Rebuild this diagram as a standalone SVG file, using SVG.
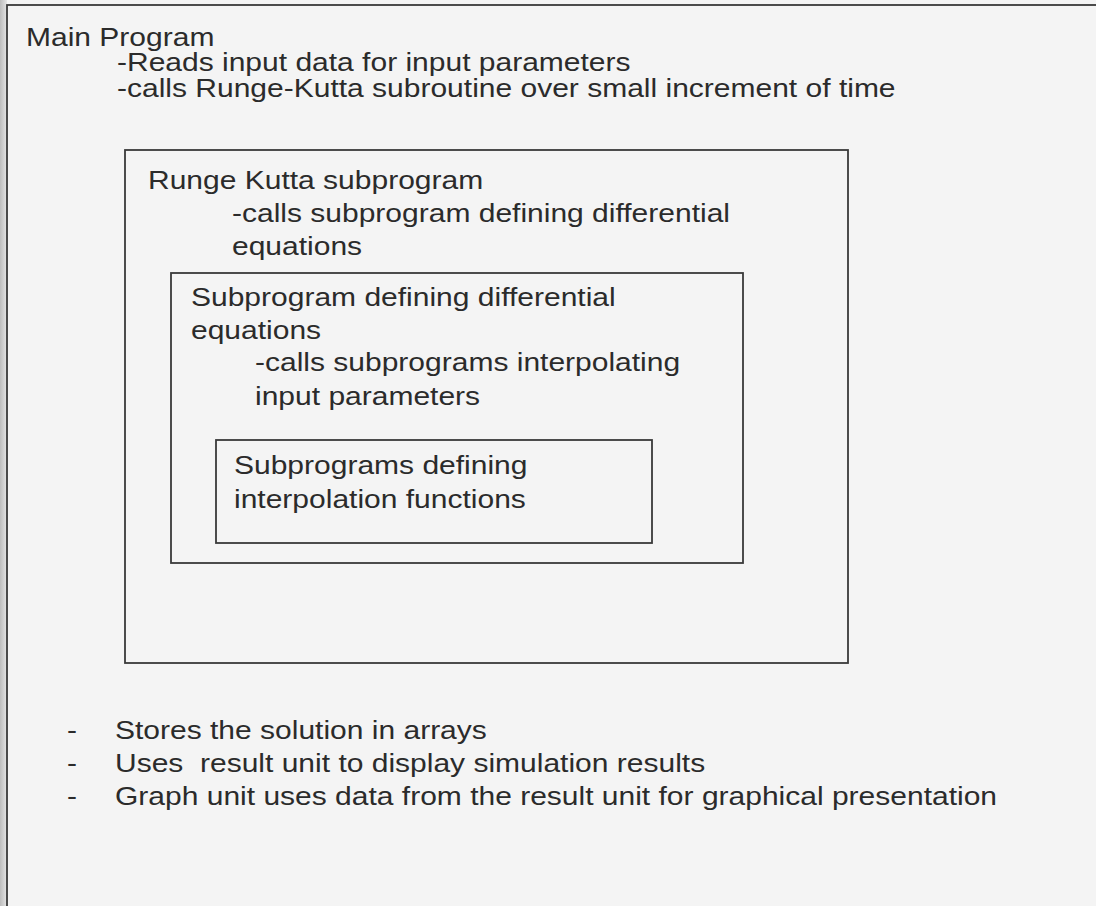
<svg xmlns="http://www.w3.org/2000/svg" width="1096" height="906" viewBox="0 0 1096 906">
<style>
  .bg { fill: #f4f4f4; }
  .box { fill: none; stroke: #3a3a3a; stroke-width: 1.8; }
  .t { font-family: "Liberation Sans", Arial, Helvetica, sans-serif; font-size: 25px; fill: #2b2b2b; }
</style>
<defs>
  <linearGradient id="edge" x1="0" y1="0" x2="1" y2="0">
    <stop offset="0" stop-color="#bdbdbd"/>
    <stop offset="1" stop-color="#e6e6e6"/>
  </linearGradient>
</defs>
<rect class="bg" x="0" y="0" width="1096" height="906"/>
<rect x="0" y="0" width="7" height="906" fill="url(#edge)"/>

<g id="main-program">
  <rect class="box" x="7" y="5" width="1100" height="910"/>
  <text class="t" transform="translate(26,46) scale(1.2,1)">Main Program</text>
  <text class="t" transform="translate(117,71) scale(1.2,1)">-Reads input data for input parameters</text>
  <text class="t" transform="translate(117,97) scale(1.2,1)">-calls Runge-Kutta subroutine over small increment of time</text>
</g>

<g id="runge-kutta">
  <rect class="box" x="125" y="150" width="723" height="513"/>
  <text class="t" transform="translate(148,189) scale(1.2,1)">Runge Kutta subprogram</text>
  <text class="t" transform="translate(232,222) scale(1.2,1)">-calls subprogram defining differential</text>
  <text class="t" transform="translate(232,255) scale(1.2,1)">equations</text>
</g>

<g id="diff-equations">
  <rect class="box" x="171" y="273" width="572" height="290"/>
  <text class="t" transform="translate(191,306) scale(1.2,1)">Subprogram defining differential</text>
  <text class="t" transform="translate(191,339) scale(1.2,1)">equations</text>
  <text class="t" transform="translate(255,371) scale(1.2,1)">-calls subprograms interpolating</text>
  <text class="t" transform="translate(255,405) scale(1.2,1)">input parameters</text>
</g>

<g id="interpolation">
  <rect class="box" x="216" y="440" width="436" height="103"/>
  <text class="t" transform="translate(234,474) scale(1.2,1)">Subprograms defining</text>
  <text class="t" transform="translate(234,508) scale(1.2,1)">interpolation functions</text>
</g>

<g id="bullets">
  <text class="t" transform="translate(67,739) scale(1.2,1)">-</text>
  <text class="t" transform="translate(115,739) scale(1.2,1)">Stores the solution in arrays</text>
  <text class="t" transform="translate(67,772) scale(1.2,1)">-</text>
  <text class="t" xml:space="preserve" transform="translate(115,772) scale(1.2,1)">Uses  result unit to display simulation results</text>
  <text class="t" transform="translate(67,805) scale(1.2,1)">-</text>
  <text class="t" transform="translate(115,805) scale(1.2,1)">Graph unit uses data from the result unit for graphical presentation</text>
</g>

<g id="connectors"></g>
</svg>
